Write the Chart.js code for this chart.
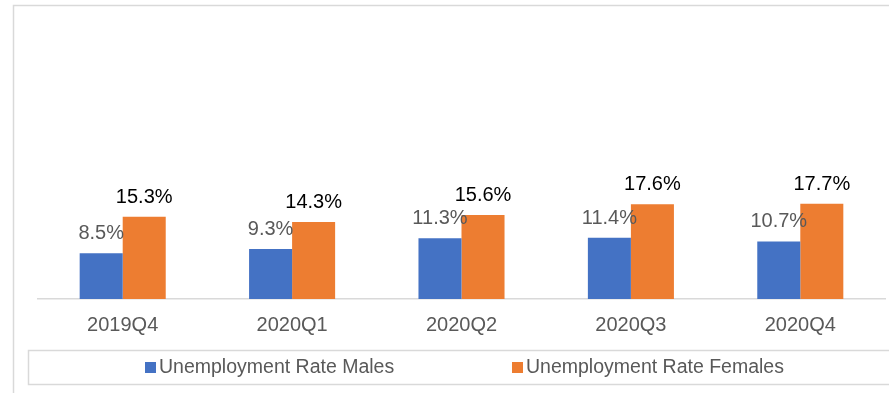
<!DOCTYPE html>
<html>
<head>
<meta charset="utf-8">
<script src="https://cdn.jsdelivr.net/npm/chart.js@4/dist/chart.umd.min.js"></script>
<style>
  html, body { margin: 0; padding: 0; background: #fff; }
  #wrap { width: 889px; height: 393px; }
</style>
</head>
<body>
<div id="wrap"><canvas id="UnemploymentChart" width="889" height="393"></canvas></div>
<script>
var Quarters = ['2019Q4', '2020Q1', '2020Q2', '2020Q3', '2020Q4'];
var MaleRates = [8.5, 9.3, 11.3, 11.4, 10.7];
var FemaleRates = [15.3, 14.3, 15.6, 17.6, 17.7];
var SeriesNames = ['Unemployment Rate Males', 'Unemployment Rate Females'];
var SeriesColours = ['#4472C4', '#ED7D31'];
var LabelColours = ['#595959', '#000000'];

var FontName = '"Liberation Sans", Arial, sans-serif';

// frame + legend box drawn on the canvas
var framePlugin = {
    id: 'frame',
    beforeDraw: function(chart) {
        var ctx = chart.ctx;
        ctx.save();
        ctx.strokeStyle = '#d9d9d9';
        ctx.lineWidth = 1.5;
        ctx.beginPath();
        ctx.moveTo(13.5, 393);
        ctx.lineTo(13.5, 5.5);
        ctx.lineTo(889, 5.5);
        ctx.stroke();
        ctx.beginPath();
        ctx.moveTo(889, 350.5);
        ctx.lineTo(28.5, 350.5);
        ctx.lineTo(28.5, 384.5);
        ctx.lineTo(889, 384.5);
        ctx.stroke();
        ctx.restore();
    },
    afterDraw: function(chart) {
        var ctx = chart.ctx;
        var xs = [145, 512];
        ctx.save();
        ctx.font = '19.5px ' + FontName;
        ctx.textBaseline = 'middle';
        chart.data.datasets.forEach(function(ds, i) {
            ctx.fillStyle = ds.backgroundColor;
            ctx.fillRect(xs[i], 362, 11, 11);
            ctx.fillStyle = '#595959';
            ctx.fillText(ds.label, xs[i] + 14, 368);
        });
        ctx.restore();
    }
};

// value labels above bars
var valuePlugin = {
    id: 'values',
    afterDatasetsDraw: function(chart) {
        var ctx = chart.ctx;
        ctx.save();
        ctx.font = '20px ' + FontName;
        ctx.textAlign = 'center';
        ctx.textBaseline = 'alphabetic';
        chart.data.datasets.forEach(function(ds, i) {
            var meta = chart.getDatasetMeta(i);
            ctx.fillStyle = LabelColours[i];
            meta.data.forEach(function(bar, j) {
                ctx.fillText(ds.data[j].toFixed(1) + '%', bar.x, bar.y - 14);
            });
        });
        ctx.restore();
    }
};

var canvasUnemployment = document.getElementById('UnemploymentChart').getContext('2d');

var myBarChart = new Chart(canvasUnemployment, {
    type: 'bar',
    data: {
        labels: Quarters,
        datasets: [{
            label: SeriesNames[0],
            data: MaleRates,
            backgroundColor: SeriesColours[0]
        }, {
            label: SeriesNames[1],
            data: FemaleRates,
            backgroundColor: SeriesColours[1]
        }]
    },
    options: {
        responsive: false,
        animation: false,
        layout: { padding: { left: 38, right: 4, top: 30, bottom: 42 } },
        datasets: { bar: { barPercentage: 1, categoryPercentage: 0.508 } },
        plugins: {
            legend: { display: false },
            tooltip: { enabled: false }
        },
        scales: {
            x: {
                grid: { display: false, drawTicks: false },
                border: { display: true, color: '#d9d9d9', width: 1.5 },
                ticks: { color: '#595959', padding: 14, font: { family: FontName, size: 20 } }
            },
            y: {
                display: false,
                min: 0,
                max: 50
            }
        }
    },
    plugins: [framePlugin, valuePlugin]
});
</script>
</body>
</html>
